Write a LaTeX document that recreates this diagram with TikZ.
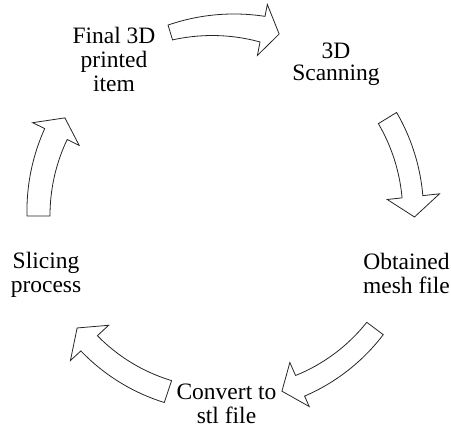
\documentclass[tikz,border=0pt]{standalone}
\usepackage{fontspec}
\setmainfont{Liberation Serif}
\begin{document}
\begin{tikzpicture}[x=1pt,y=1pt,
  blockarrow/.style={draw=black!85, line width=0.8pt, fill=white, line join=miter},
  label/.style={align=center, inner sep=0pt, font=\fontsize{23.5}{24}\selectfont}]
\useasboundingbox (0,0) rectangle (451,429);

% Curved block arrow along a ring around the origin of the scope.
% #1 tail angle, #2 head-base angle, #3 tip angle,
% #4/#5 inner/outer radius at the tail, #6/#7 inner/outer radius at the head base,
% #8/#9 inner/outer radius of the barbs
\newcommand\ringarrow[9]{%
  \draw[blockarrow]
    plot[domain=#1:#2, samples=40] (\x:{#5+(#7-#5)*(\x-(#1))/((#2)-(#1))})
    -- (#2:#9) -- (#3:{(#8+#9)/2}) -- (#2:#8)
    -- plot[domain=#2:#1, samples=40] (\x:{#6+(#4-#6)*(\x-(#2))/((#1)-(#2))})
    -- cycle;}

\begin{scope}[shift={(226,212)}]
  \ringarrow{106.8}{79}{73.8}{185}{200.5}{178.3}{204.4}{164.6}{216.5}
  \ringarrow{31.5}{6.2}{0}{178.7}{200.1}{177.1}{198}{162.2}{214.8}
  \ringarrow{323.2}{293.7}{287.8}{175.8}{196.4}{173.1}{195.6}{158.9}{207}
  \ringarrow{251.6}{222.7}{216.7}{172.4}{195.5}{175}{197.5}{159.7}{211.7}
  \ringarrow{179.7}{154}{148.4}{176}{199}{176.7}{201.7}{163.3}{215.1}
\end{scope}

\node[label] (final) at (114,369.6) {Final 3D\\printed\\item};
\node[label, font=\fontsize{23.5}{22}\selectfont] (scan) at (336,364.8) {3D\\Scanning};
\node[label] (mesh) at (406.5,156) {Obtained\\mesh file};
\node[label] (stl) at (226.5,25.5) {Convert to\\stl file};
\node[label] (slice) at (46,154.5) {Slicing\\process};
\end{tikzpicture}
\end{document}
